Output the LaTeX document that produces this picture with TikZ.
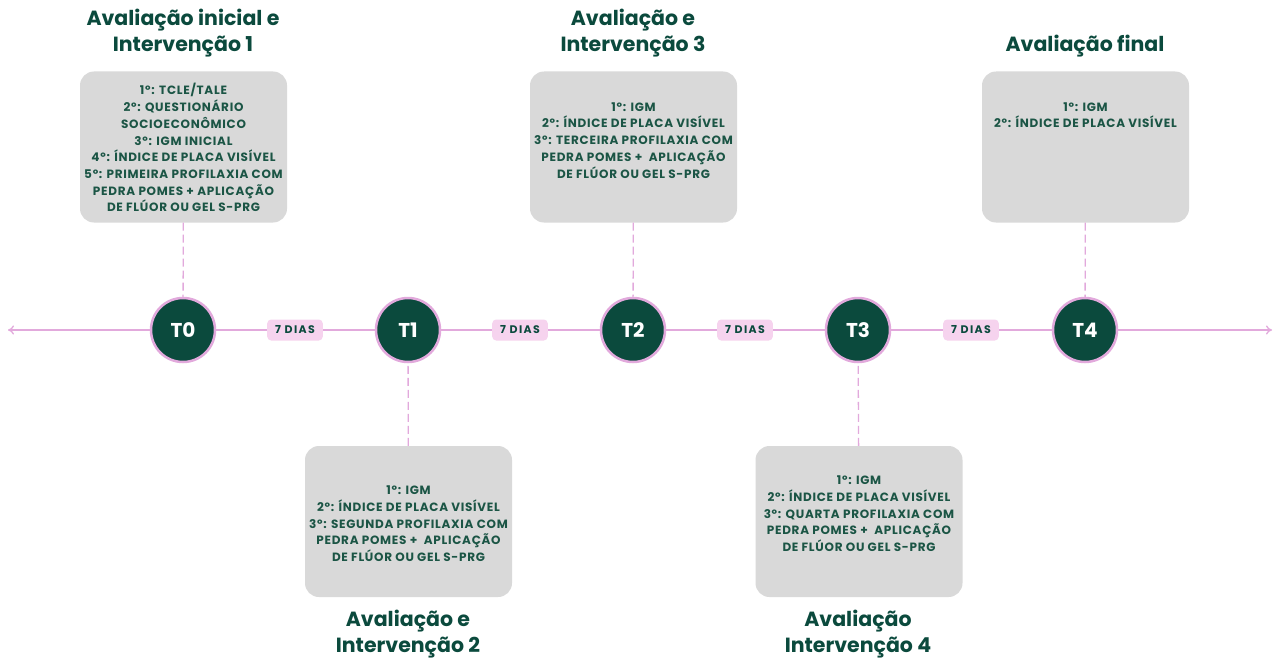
\documentclass[tikz,border=0pt]{standalone}
\usepackage{fontspec}
\setmainfont{Poppins}
\newfontfamily\boxfont{Poppins}[LetterSpace=6]
\newfontfamily\gapfont{Poppins}[LetterSpace=12]
\usetikzlibrary{positioning,arrows.meta}
\definecolor{darkgreen}{HTML}{0B4A3D}
\definecolor{textgreen}{HTML}{1B5545}
\definecolor{linepink}{HTML}{E2A9DC}
\definecolor{gappink}{HTML}{F6D3EE}
\definecolor{boxgray}{HTML}{D9D9D9}
\tikzset{
  stage/.style={circle, fill=darkgreen, draw=linepink, line width=2.5pt, minimum size=64pt, inner sep=0pt, text=white, font=\bfseries\fontsize{20}{20}\selectfont},
  infobox/.style={rectangle, rounded corners=14pt, fill=boxgray, minimum width=207pt, minimum height=151pt, inner sep=0pt},
  infotxt/.style={align=center, text=textgreen, inner sep=0pt, anchor=north, font=\boxfont\bfseries\fontsize{12}{16.7}\selectfont},
  gap/.style={rounded corners=4pt, fill=gappink, text=darkgreen, inner xsep=8pt, inner ysep=0pt, minimum height=21pt, font=\gapfont\bfseries\fontsize{11}{11}\selectfont},
  title/.style={align=center, text=darkgreen, font=\bfseries\fontsize{20.5}{26}\selectfont},
  axis/.style={draw=linepink, line width=1.3pt},
  link/.style={draw=linepink, line width=1.3pt, dash pattern=on 8pt off 4pt}
}
\begin{document}
\begin{tikzpicture}[x=1pt,y=-1pt]
\useasboundingbox[fill=white] (0,0) rectangle (1275,661);

% linha do tempo
\coordinate (L) at (8,330);
\coordinate (R) at (1272,330);
\node[stage] (t0) at (183,330) {T0};
\node[stage] (t1) at (408,330) {T1};
\node[stage] (t2) at (633,330) {T2};
\node[stage] (t3) at (858,330) {T3};
\node[stage] (t4) at (1085,330) {T4};
\draw[axis,{To[length=6pt,width=9pt]}-] (L) -- (t0);
\draw[axis,-{To[length=6pt,width=9pt]}] (t4) -- (R);
\draw[axis] (t0) -- (t1) (t1) -- (t2) (t2) -- (t3) (t3) -- (t4);
\node[gap] (d1) at (295,330) {7 DIAS};
\node[gap] (d2) at (520,330) {7 DIAS};
\node[gap] (d3) at (745,330) {7 DIAS};
\node[gap] (d4) at (971,330) {7 DIAS};

% caixas
\node[infobox] (b0) at (183.5,147) {};
\node[infobox] (b1) at (408.5,521.5) {};
\node[infobox] (b2) at (633.5,147) {};
\node[infobox] (b3) at (859,521.5) {};
\node[infobox] (b4) at (1085.5,147) {};
\draw[link] (b0) -- (t0);
\draw[link] (b1) -- (t1);
\draw[link] (b2) -- (t2);
\draw[link] (b3) -- (t3);
\draw[link] (b4) -- (t4);

\node[infotxt, below=12pt of b0.north] (x0) {1º: TCLE/TALE\\2º: QUESTIONÁRIO\\SOCIOECONÔMICO\\3º: IGM INICIAL\\4º: ÍNDICE DE PLACA VISÍVEL\\5º: PRIMEIRA PROFILAXIA COM\\PEDRA POMES + APLICAÇÃO\\DE FLÚOR OU GEL S-PRG};
\node[infotxt, below=40pt of b1.north] (x1) {1º: IGM\\2º: ÍNDICE DE PLACA VISÍVEL\\3º: SEGUNDA PROFILAXIA COM\\PEDRA POMES +~ APLICAÇÃO\\DE FLÚOR OU GEL S-PRG};
\node[infotxt, below=31pt of b2.north] (x2) {1º: IGM\\2º: ÍNDICE DE PLACA VISÍVEL\\3º: TERCEIRA PROFILAXIA COM\\PEDRA POMES +~ APLICAÇÃO\\DE FLÚOR OU GEL S-PRG};
\node[infotxt, below=30pt of b3.north] (x3) {1º: IGM\\2º: ÍNDICE DE PLACA VISÍVEL\\3º: QUARTA PROFILAXIA COM\\PEDRA POMES +~ APLICAÇÃO\\DE FLÚOR OU GEL S-PRG};
\node[infotxt, below=31pt of b4.north] (x4) {1º: IGM\\2º: ÍNDICE DE PLACA VISÍVEL};

% titulos
\node[title] (h0) at (183,33) {Avaliação inicial e\\Intervenção 1};
\node[title] (h2) at (633,33) {Avaliação e\\Intervenção 3};
\node[title] (h4) at (1085,46) {Avaliação final};
\node[title] (h1) at (408,634) {Avaliação e\\Intervenção 2};
\node[title] (h3) at (858,634) {Avaliação\\Intervenção 4};
\end{tikzpicture}
\end{document}
